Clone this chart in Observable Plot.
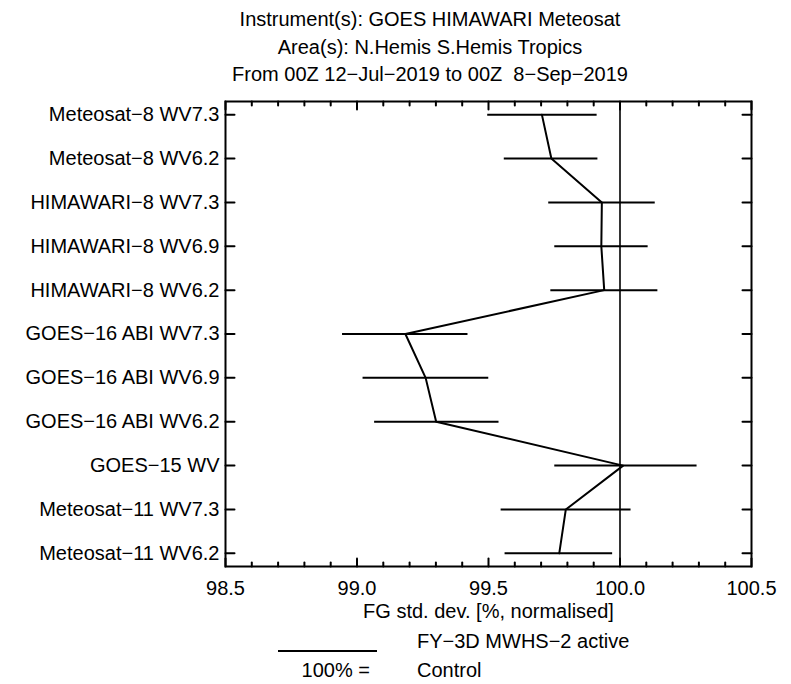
<!DOCTYPE html>
<html>
<head>
<meta charset="utf-8">
<script src="https://cdn.jsdelivr.net/npm/d3@7"></script>
<script src="https://cdn.jsdelivr.net/npm/@observablehq/plot@0.6"></script>
<style>
  html, body { margin: 0; padding: 0; background: #fff; }
  body { width: 791px; height: 684px; position: relative; overflow: hidden;
         font-family: "Liberation Sans", Arial, Helvetica, sans-serif; color: #000; }
  #title { position: absolute; left: 0; top: 6px; width: 860px; text-align: center;
           font-size: 20px; line-height: 27.5px; white-space: pre; }
  #chart { position: absolute; left: 0; top: 90px; }
  .leg { position: absolute; font-size: 20px; line-height: 20px; white-space: pre; }
  #legline { position: absolute; left: 278px; width: 99px; top: 650px; height: 0;
             border-top: 2px solid #000; }
</style>
</head>
<body>
<div id="title"></div>
<div id="chart"></div>
<div id="legline"></div>
<div class="leg" id="leg1" style="left:417px; top:631px;"></div>
<div class="leg" id="leg2" style="right:421px; top:660px; text-align:right;"></div>
<div class="leg" id="leg3" style="left:417px; top:660px;"></div>
<script>
// ---- data ----
const titleLines = [
  "Instrument(s): GOES HIMAWARI Meteosat",
  "Area(s): N.Hemis S.Hemis Tropics",
  "From 00Z 12\u2212Jul\u22122019 to 00Z  8\u2212Sep\u22122019"
];
const names = [
  "Meteosat\u22128 WV7.3", "Meteosat\u22128 WV6.2",
  "HIMAWARI\u22128 WV7.3", "HIMAWARI\u22128 WV6.9", "HIMAWARI\u22128 WV6.2",
  "GOES\u221216 ABI WV7.3", "GOES\u221216 ABI WV6.9", "GOES\u221216 ABI WV6.2",
  "GOES\u221215 WV",
  "Meteosat\u221211 WV7.3", "Meteosat\u221211 WV6.2"
];
const values = [99.703, 99.739, 99.931, 99.929, 99.940, 99.184, 99.261, 99.301, 100.012, 99.794, 99.769];
const lower  = [99.497, 99.560, 99.729, 99.752, 99.737, 98.945, 99.023, 99.067, 99.752, 99.548, 99.563];
const upper  = [99.913, 99.916, 100.134, 100.107, 100.144, 99.422, 99.501, 99.540, 100.293, 100.042, 99.972];
const xTicks = [98.5, 99.0, 99.5, 100.0, 100.5];
const xMinor = [98.6, 98.7, 98.8, 98.9, 99.1, 99.2, 99.3, 99.4, 99.6, 99.7, 99.8, 99.9,
                100.1, 100.2, 100.3, 100.4];
const controlValue = 100.0;
const xLabel = "FG std. dev. [%, normalised]";
const legendExperiment = "FY\u22123D MWHS\u22122 active";
const legendControlPrefix = "100% =";
const legendControl = "Control";

// ---- build ----
document.getElementById("title").textContent = titleLines.join("\n");
document.getElementById("leg1").textContent = legendExperiment;
document.getElementById("leg2").textContent = legendControlPrefix;
document.getElementById("leg3").textContent = legendControl;

const rows = names.map((n, i) => ({name: n, value: values[i], lo: lower[i], hi: upper[i]}));
const tickShape = {draw(context, l) { context.moveTo(0, 0); context.lineTo(0, -l); }};
const tickOpts = {anchor: "start", shape: tickShape, stroke: "black", strokeWidth: 2};

const chart = Plot.plot({
  width: 791,
  height: 540,
  marginLeft: 225,
  marginRight: 40,
  marginTop: 11,
  marginBottom: 64,
  style: {fontFamily: "Liberation Sans, Arial, sans-serif", fontSize: "20px", color: "black", background: "white"},
  x: {domain: [98.5, 100.5]},
  y: {type: "point", domain: names, padding: 0.3, round: false},
  marks: [
    Plot.ruleX([controlValue], {stroke: "black", strokeWidth: 1.6}),
    Plot.ruleY(rows, {y: "name", x1: "lo", x2: "hi", stroke: "black", strokeWidth: 2}),
    Plot.line(rows, {x: "value", y: "name", stroke: "black", strokeWidth: 2}),
    // inward ticks
    Plot.vector(xMinor, {x: d => d, frameAnchor: "bottom", rotate: 0, length: 4, ...tickOpts}),
    Plot.vector(xMinor, {x: d => d, frameAnchor: "top", rotate: 180, length: 4, ...tickOpts}),
    Plot.vector(xTicks, {x: d => d, frameAnchor: "bottom", rotate: 0, length: 8, ...tickOpts}),
    Plot.vector(xTicks, {x: d => d, frameAnchor: "top", rotate: 180, length: 8, ...tickOpts}),
    Plot.vector(names, {y: d => d, frameAnchor: "left", rotate: 90, length: 9, ...tickOpts}),
    Plot.vector(names, {y: d => d, frameAnchor: "right", rotate: -90, length: 9, ...tickOpts}),
    Plot.frame({stroke: "black", strokeWidth: 2}),
    Plot.axisX({ticks: xTicks, tickSize: 0, tickPadding: 14, tickFormat: d3.format(".1f"),
                label: xLabel, labelAnchor: "center", labelArrow: false, labelOffset: 51, fontSize: 20}),
    Plot.axisY({tickSize: 0, tickPadding: 6, label: null, fontSize: 20})
  ]
});
document.getElementById("chart").appendChild(chart);
</script>
</body>
</html>
